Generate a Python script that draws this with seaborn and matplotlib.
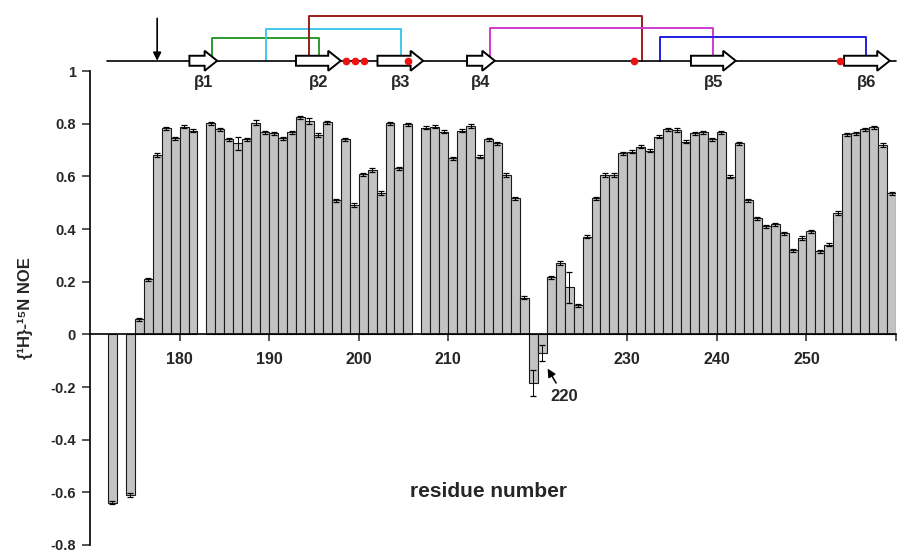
import numpy as np
import seaborn as sns
import matplotlib.pyplot as plt
from matplotlib.patches import Polygon
import matplotlib.transforms as mtransforms

# residue numbers and heteronuclear NOE values
residues = [172, 174, 175, 176, 177, 178, 179, 180, 181,
            183, 184, 185, 186, 187, 188, 189, 190, 191, 192, 193, 194, 195,
            196, 197, 198, 199, 200, 201, 202, 203, 204, 205,
            207, 208, 209, 210, 211, 212, 213, 214, 215, 216, 217, 218, 219,
            220, 221, 222, 223, 224, 225, 226, 227, 228, 229, 230, 231, 232,
            233, 234, 235, 236, 237, 238, 239, 240, 241, 242, 243, 244, 245,
            246, 247, 248, 249, 250, 251, 252, 253, 254, 255, 256, 257, 258, 259]
noe = [-0.64, -0.61, 0.057, 0.209, 0.681, 0.783, 0.744, 0.788, 0.773,
       0.801, 0.779, 0.740, 0.725, 0.740, 0.804, 0.767, 0.763, 0.744, 0.767, 0.824, 0.810, 0.757,
       0.805, 0.509, 0.740, 0.490, 0.608, 0.624, 0.537, 0.801, 0.630, 0.797,
       0.785, 0.788, 0.769, 0.668, 0.773, 0.791, 0.674, 0.740, 0.725, 0.605, 0.516, 0.139, -0.185,
       -0.07, 0.216, 0.271, 0.178, 0.110, 0.370, 0.516, 0.605, 0.605, 0.687, 0.693, 0.712, 0.697,
       0.750, 0.778, 0.776, 0.731, 0.763, 0.767, 0.740, 0.767, 0.598, 0.725, 0.509, 0.440, 0.411,
       0.418, 0.383, 0.319, 0.366, 0.392, 0.316, 0.341, 0.461, 0.759, 0.763, 0.778, 0.786, 0.719, 0.535]
noe_err = [0.006] * len(noe)
for r, e in {186: 0.025, 188: 0.01, 194: 0.01, 199: 0.008, 219: 0.05,
             220: 0.03, 223: 0.06}.items():
    noe_err[residues.index(r)] = e

xtick_labels = ['180', '190', '200', '210', '', '230', '240', '250', '']

# secondary structure schematic on top
strand_names = ['β1', 'β2', 'β3', 'β4', 'β5', 'β6']
strand_start = [181.1, 193.0, 202.1, 212.1, 237.1, 254.2]
strand_end = [184.2, 198.0, 207.2, 215.2, 242.1, 259.3]
red_dots = [198.6, 199.6, 200.6, 205.5, 230.7, 253.7]
bracket_left = [183.6, 189.6, 194.5, 214.7, 233.6]
bracket_right = [195.6, 204.7, 231.6, 239.6, 256.6]
bracket_top = [1.124, 1.160, 1.210, 1.162, 1.130]
bracket_colors = ['#2e9b2e', '#3cc8f0', '#9b1c1c', '#cc3ccc', '#2020e0']
cut_site = 177.5

sns.set_style('white')
plt.rcParams['font.family'] = ['Liberation Sans', 'DejaVu Sans']
plt.rcParams['font.weight'] = 'bold'

fig = plt.figure(figsize=(8.99, 5.51), dpi=100)
ax = fig.add_axes([0.1001, 0.0109, 0.8966, 0.8602])

pos = np.array(residues) + 0.5
sns.barplot(x=pos, y=noe, native_scale=True, width=1, color='#c3c3c3',
            edgecolor='#1a1a1a', linewidth=0.8, errorbar=None, ax=ax, zorder=2)
ax.errorbar(pos, noe, yerr=noe_err, fmt='none', ecolor='black',
            elinewidth=0.7, capsize=2.2, capthick=0.9, zorder=3)

ax.set_xlim(170, 260)
ax.set_ylim(-0.8, 1.0)
ax.set_yticks(np.arange(-0.8, 1.01, 0.2))
ax.set_yticklabels(['-0.8', '-0.6', '-0.4', '-0.2', '0', '0.2', '0.4', '0.6', '0.8', '1'])
ax.set_xticks(range(180, 261, 10))
ax.set_xticklabels(xtick_labels)

for s in ['top', 'right']:
    ax.spines[s].set_visible(False)
ax.spines['bottom'].set_position(('data', 0))
ax.spines['bottom'].set_linewidth(1.2)
ax.spines['left'].set_linewidth(1.2)
ax.spines['bottom'].set_color('black')
ax.spines['left'].set_color('black')
ax.spines['bottom'].set_zorder(4)
ax.tick_params(axis='y', direction='out', length=6, width=1.1, pad=4,
               labelsize=10.5, left=True)
ax.tick_params(axis='x', direction='out', length=5, width=1.1, pad=8,
               labelsize=11.5, bottom=True)
for lab in ax.get_xticklabels() + ax.get_yticklabels():
    lab.set_fontweight('bold')

ax.set_xlabel('')
ax.set_ylabel('{¹H}-¹⁵N NOE', fontsize=12, fontweight='bold')
ax.yaxis.set_label_coords(-0.071, 0.5)

trans = mtransforms.blended_transform_factory(ax.transAxes, ax.transData)
ax.text(0.495, -0.597, 'residue number', transform=trans, ha='center',
        va='center', fontsize=15, fontweight='bold')

ax.annotate('220', xy=(221.1, -0.13), xytext=(222.9, -0.235), ha='center',
            va='center', fontsize=12, fontweight='bold',
            arrowprops=dict(arrowstyle='-|>', color='black', lw=1.1,
                            mutation_scale=12, shrinkA=2, shrinkB=0))

# schematic
base = 1.039
ax.plot([171.9, 260], [base, base], color='black', lw=1.2, clip_on=False, zorder=5)
for l, r, t, c in zip(bracket_left, bracket_right, bracket_top, bracket_colors):
    ax.plot([l, l, r, r], [base, t, t, base], color=c, lw=1.4,
            clip_on=False, zorder=4)
hb, hh, hl = 0.019, 0.038, 1.4
for name, s, e in zip(strand_names, strand_start, strand_end):
    verts = [(s, base - hb), (e - hl, base - hb), (e - hl, base - hh), (e, base),
             (e - hl, base + hh), (e - hl, base + hb), (s, base + hb)]
    ax.add_patch(Polygon(verts, closed=True, facecolor='white', edgecolor='black',
                         lw=1.4, clip_on=False, zorder=6))
    ax.text((s + e) / 2, 0.958, name, ha='center', va='center', fontsize=12,
            fontweight='bold', clip_on=False, zorder=6)
ax.plot(red_dots, [base] * len(red_dots), 'o', color='#ee1111', ms=4.5,
        clip_on=False, zorder=7)
ax.annotate('', xy=(cut_site, base), xytext=(cut_site, 1.20),
            arrowprops=dict(arrowstyle='-|>', color='black', lw=1.2,
                            mutation_scale=12, shrinkA=0, shrinkB=0),
            annotation_clip=False)

fig.savefig('out.png', dpi=100)
